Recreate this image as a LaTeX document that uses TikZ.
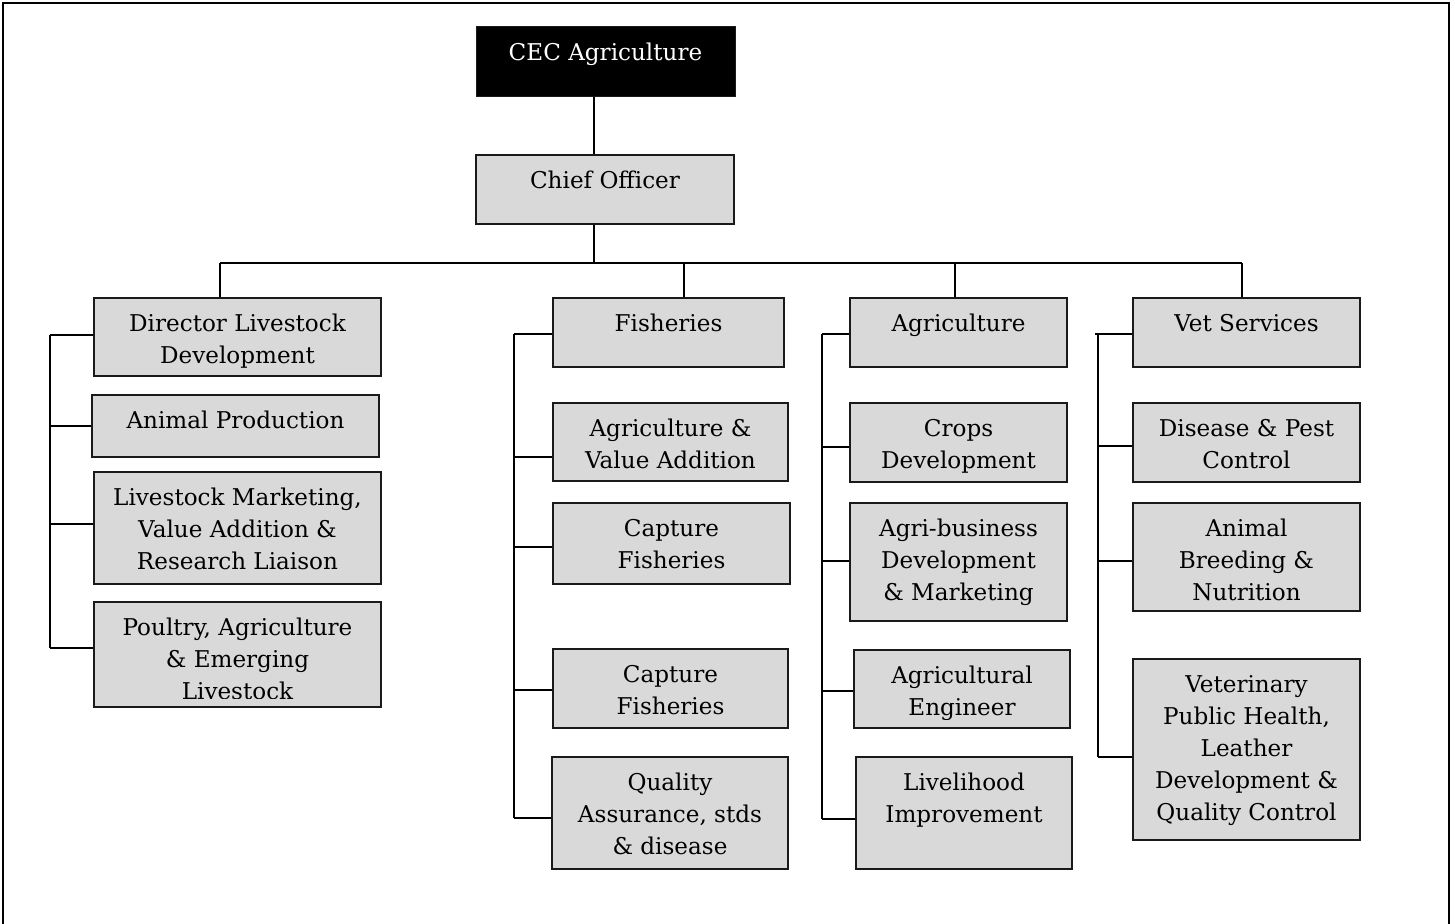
\documentclass[tikz,border=0pt]{standalone}
\usepackage{fontspec}
\setmainfont{DejaVu Serif}
\usetikzlibrary{fit}
\definecolor{boxgray}{HTML}{D9D9D9}
\definecolor{inkline}{HTML}{1A1A1A}
\tikzset{
  unit/.style={draw=inkline, line width=2pt, fill=boxgray, inner sep=0pt},
  headunit/.style={draw=inkline, line width=1pt, fill=black, inner sep=0pt},
  lbl/.style={align=center, inner sep=0pt, font=\fontsize{23.1}{32}\selectfont},
  link/.style={draw=black, line width=1.8pt},
  frame/.style={draw=black, line width=2.2pt}
}
% #1 name, #2/#3 top-left corner, #4/#5 bottom-right corner, #6 label
\newcommand{\orgunit}[6]{%
  \node[unit, fit={(#2,#3) (#4,#5)}] (#1) {};
  \begin{scope}
    \clip (#1.north west) rectangle ([yshift=10pt]#1.south east);
    \node[lbl, anchor=north] (#1-t) at ([yshift=-11.8pt]#1.north) {\strut #6};
  \end{scope}}

\begin{document}
\begin{tikzpicture}[x=1pt,y=-1pt]
\useasboundingbox (0,0) rectangle (1455,923);
\draw[frame] (3,3) rectangle (1449,940);

% top of the chart
\node[headunit, fit={(476,27) (735,97)}] (cec) {};
\node[lbl, text=white, anchor=north] (cec-t) at ([yshift=-11.8pt]cec.north) {\strut CEC Agriculture};
\orgunit{chief}{476}{155}{734}{224}{Chief Officer}

% livestock column
\orgunit{dir}{94}{298}{381}{376}{Director Livestock\\Development}
\orgunit{anp}{92}{395}{379}{457}{Animal Production}
\orgunit{lmk}{94}{472}{381}{584}{Livestock Marketing,\\Value Addition \&\\Research Liaison}
\orgunit{pou}{94}{602}{381}{707}{Poultry, Agriculture\\\& Emerging\\Livestock}

% fisheries column
\orgunit{fis}{553}{298}{784}{367}{Fisheries}
\orgunit{agv}{553}{403}{788}{481}{Agriculture \&\\Value Addition}
\orgunit{cfa}{553}{503}{790}{584}{Capture\\Fisheries}
\orgunit{cfb}{553}{649}{788}{728}{Capture\\Fisheries}
\orgunit{qas}{552}{757}{788}{869}{Quality\\Assurance, stds\\\& disease}

% agriculture column
\orgunit{agr}{850}{298}{1067}{367}{Agriculture}
\orgunit{crp}{850}{403}{1067}{482}{Crops\\Development}
\orgunit{abd}{850}{503}{1067}{621}{Agri-business\\Development\\\& Marketing}
\orgunit{aen}{854}{650}{1070}{728}{Agricultural\\Engineer}
\orgunit{liv}{856}{757}{1072}{869}{Livelihood\\Improvement}

% veterinary column
\orgunit{vet}{1133}{298}{1360}{367}{Vet Services}
\orgunit{dpc}{1133}{403}{1360}{482}{Disease \& Pest\\Control}
\orgunit{abn}{1133}{503}{1360}{611}{Animal\\Breeding \&\\Nutrition}
\orgunit{vph}{1133}{659}{1360}{840}{Veterinary\\Public Health,\\Leather\\Development \&\\Quality Control}

% main trunk and bus
\coordinate (trunk) at (594,263);
\coordinate (busL) at (220,263);
\coordinate (busF) at (684,263);
\coordinate (busA) at (955,263);
\coordinate (busR) at (1242,263);
\draw[link] (cec.south -| trunk) -- (chief.north -| trunk);
\draw[link] (chief.south -| trunk) -- (trunk);
\draw[link] (busL) -- (busR);
\draw[link] (busL) -- (busL |- dir.north);
\draw[link] (busF) -- (busF |- fis.north);
\draw[link] (busA) -- (busA |- agr.north);
\draw[link] (busR) -- (busR |- vet.north);

% livestock spine
\coordinate (la) at (50,335);
\coordinate (lb) at (50,426);
\coordinate (lc) at (50,524);
\coordinate (ld) at (50,648);
\draw[link] (la) -- (ld);
\draw[link] (la) -- (la -| dir.west);
\draw[link] (lb) -- (lb -| anp.west);
\draw[link] (lc) -- (lc -| lmk.west);
\draw[link] (ld) -- (ld -| pou.west);

% fisheries spine
\coordinate (fa) at (514,334);
\coordinate (fb) at (514,457);
\coordinate (fc) at (514,547);
\coordinate (fd) at (514,690);
\coordinate (fe) at (514,818);
\draw[link] (fa) -- (fe);
\draw[link] (fa) -- (fa -| fis.west);
\draw[link] (fb) -- (fb -| agv.west);
\draw[link] (fc) -- (fc -| cfa.west);
\draw[link] (fd) -- (fd -| cfb.west);
\draw[link] (fe) -- (fe -| qas.west);

% agriculture spine
\coordinate (aa) at (822,334);
\coordinate (ab) at (822,447);
\coordinate (ac) at (822,561);
\coordinate (ad) at (822,691);
\coordinate (ae) at (822,819);
\draw[link] (aa) -- (ae);
\draw[link] (aa) -- (aa -| agr.west);
\draw[link] (ab) -- (ab -| crp.west);
\draw[link] (ac) -- (ac -| abd.west);
\draw[link] (ad) -- (ad -| aen.west);
\draw[link] (ae) -- (ae -| liv.west);

% veterinary spine
\coordinate (va) at (1098,334);
\coordinate (vs) at (1095,334);
\coordinate (vb) at (1098,446);
\coordinate (vc) at (1098,561);
\coordinate (vd) at (1098,757);
\draw[link] (va) -- (vd);
\draw[link] (vs) -- (vs -| vet.west);
\draw[link] (vb) -- (vb -| dpc.west);
\draw[link] (vc) -- (vc -| abn.west);
\draw[link] (vd) -- (vd -| vph.west);
\end{tikzpicture}
\end{document}
